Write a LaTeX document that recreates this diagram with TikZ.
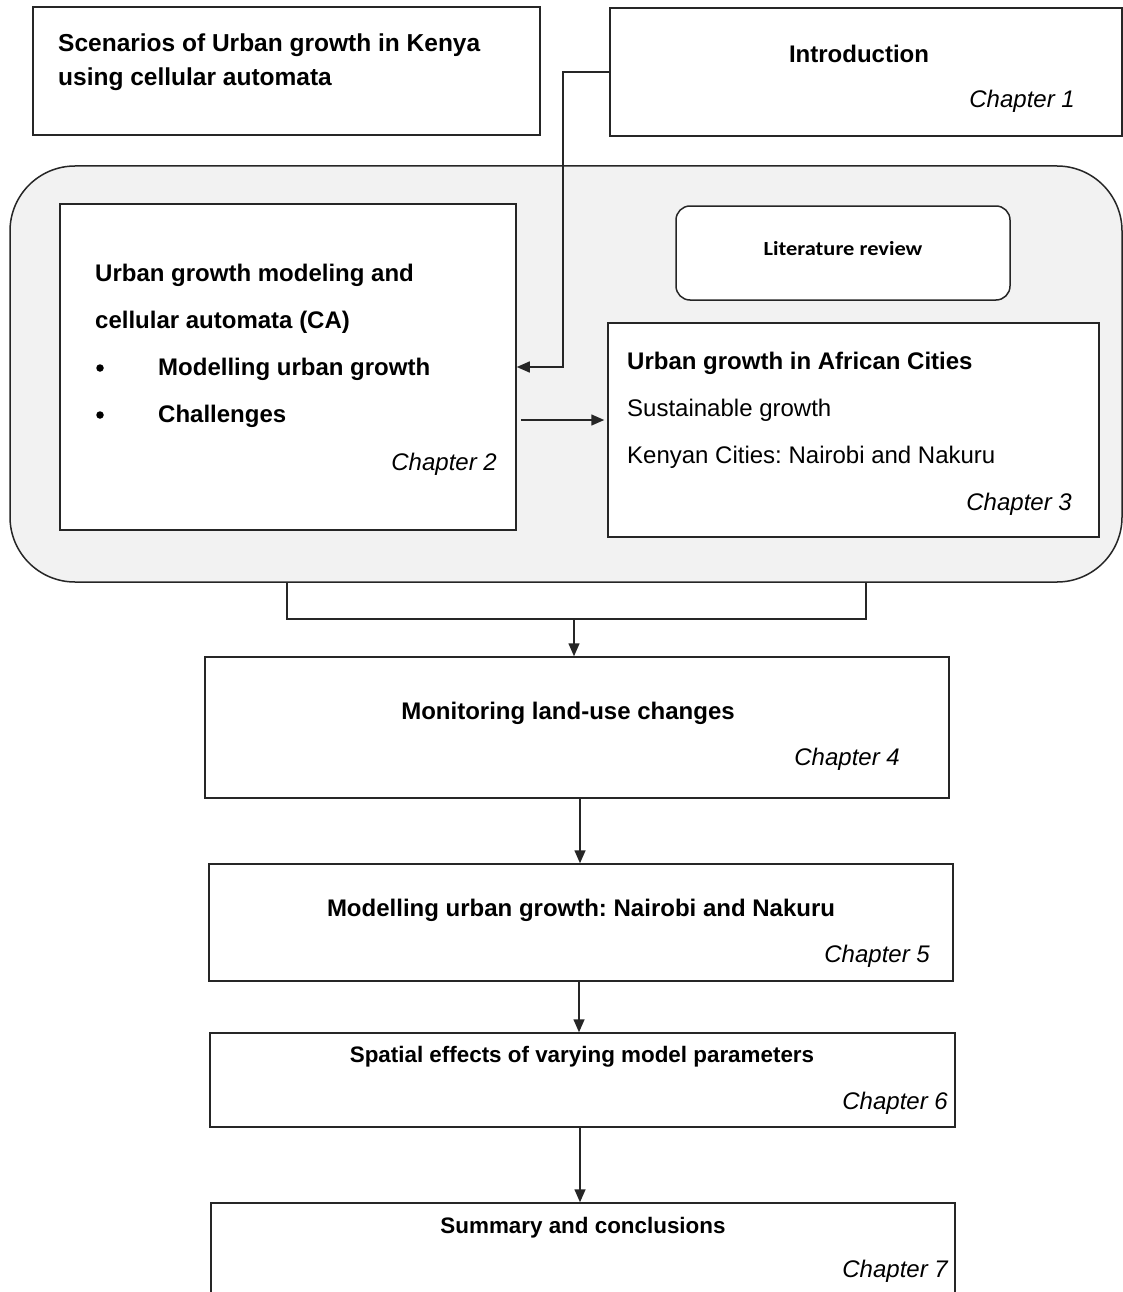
\documentclass[tikz,border=0pt]{standalone}
\usepackage{fontspec}
\setmainfont{Liberation Sans}
\newfontfamily\litfont{Carlito}[FakeStretch=1.12]
\usetikzlibrary{arrows.meta,fit}
\frenchspacing

\begin{document}
\begin{tikzpicture}[x=1pt,y=-1pt,
  box/.style={draw=black!85, line width=1.5pt, fill=white, inner sep=0pt},
  panel/.style={draw=black!85, line width=1.5pt, fill=black!5, inner sep=0pt, rounded corners=65pt},
  lnk/.style={draw=black!85, line width=1.5pt},
  arr/.style={lnk, -{Triangle[length=13pt,width=11pt]}},
  head/.style={inner sep=0pt, font=\fontsize{24}{28}\selectfont\bfseries},
  ttl/.style={inner sep=0pt, font=\fontsize{24.5}{28}\selectfont\bfseries},
  small/.style={inner sep=0pt, font=\fontsize{22.4}{26}\selectfont\bfseries},
  body/.style={inner sep=0pt, font=\fontsize{24}{28}\selectfont},
  chap/.style={inner sep=0pt, anchor=base east, font=\fontsize{24}{28}\selectfont\itshape},
  dot/.style={circle, fill=black, inner sep=0pt, minimum size=7.5pt}
]
\clip (0,0) rectangle (1123,1292);
\fill[white] (0,0) rectangle (1123,1292);

% title and chapter 1
\node[box, fit={(33,7) (540,135)}] (title) {};
\node[ttl, anchor=base west] (t1) at (58,52) {Scenarios of Urban growth in Kenya};
\node[ttl, anchor=base west] (t2) at (58,86) {using cellular automata};

\node[box, fit={(610,8) (1122,136)}] (intro) {};
\node[head, anchor=base] (introtxt) at (859,63) {Introduction};
\node[chap] (c1) at (1075,108) {Chapter 1};

% literature review panel
\node[panel, fit={(10,166) (1122,582)}] (lit) {};

\node[box, fit={(60,204) (516,530)}] (ch2) {};
\node[head, anchor=base west] (c2a) at (95,281) {Urban growth modeling and};
\node[head, anchor=base west] (c2b) at (95,328) {cellular automata (CA)};
\node[dot] (b1) at (100,368) {};
\node[head, anchor=base west] (c2c) at (158,375) {Modelling urban growth};
\node[dot] (b2) at (100,415) {};
\node[head, anchor=base west] (c2d) at (158,422) {Challenges};
\node[chap] (c2) at (497,470) {Chapter 2};

\node[box, rounded corners=14pt, fit={(676,206) (1010,300)}] (litbox) {};
\node[inner sep=0pt, anchor=base, font=\litfont\fontsize{20}{24}\selectfont\bfseries] (littxt) at (843,255) {Literature review};

\node[box, fit={(608,323) (1099,537)}] (ch3) {};
\node[head, anchor=base west] (c3a) at (627,369) {Urban growth in African Cities};
\node[body, anchor=base west] (c3b) at (627,416) {Sustainable growth};
\node[body, anchor=base west] (c3c) at (627,463) {Kenyan Cities: Nairobi and Nakuru};
\node[chap] (c3) at (1072,510) {Chapter 3};

% connectors inside the panel
\coordinate (bend) at (563,72);
\draw[arr] (intro.west) -- (bend) |- (ch2.east);
\coordinate (r420) at (0,420);
\draw[arr, shorten <=4pt, shorten >=3pt] (ch2.east |- r420) -- (ch3.west |- r420);

% bracket joining chapters 2 and 3
\coordinate (bl) at (287,619);
\coordinate (br) at (866,619);
\coordinate (bm) at (574,619);
\draw[lnk] (bl |- lit.south) -- (bl) -- (br) -- (br |- lit.south);

% chapters 4 to 7
\node[box, fit={(205,657) (949,798)}] (ch4) {};
\node[head, anchor=base] (c4a) at (568,719) {Monitoring land-use changes};
\node[chap] (c4) at (900,765) {Chapter 4};

\node[box, fit={(209,864) (953,981)}] (ch5) {};
\node[head, anchor=base] (c5a) at (581,916) {Modelling urban growth: Nairobi and Nakuru};
\node[chap] (c5) at (930,962) {Chapter 5};

\node[box, fit={(210,1033) (955,1127)}] (ch6) {};
\node[small, anchor=base] (c6a) at (582,1062) {Spatial effects of varying model parameters};
\node[chap] (c6) at (948,1109) {Chapter 6};

\node[box, fit={(211,1203) (955,1320)}] (ch7) {};
\node[small, anchor=base] (c7a) at (583,1233) {Summary and conclusions};
\node[chap] (c7) at (948,1277) {Chapter 7};

% vertical flow
\draw[arr] (bm) -- (bm |- ch4.north);
\coordinate (x45) at (580,0);
\draw[arr] (ch4.south -| x45) -- (ch5.north -| x45);
\coordinate (x56) at (579,0);
\draw[arr] (ch5.south -| x56) -- (ch6.north -| x56);
\coordinate (x67) at (580,0);
\draw[arr] (ch6.south -| x67) -- (ch7.north -| x67);
\end{tikzpicture}
\end{document}
